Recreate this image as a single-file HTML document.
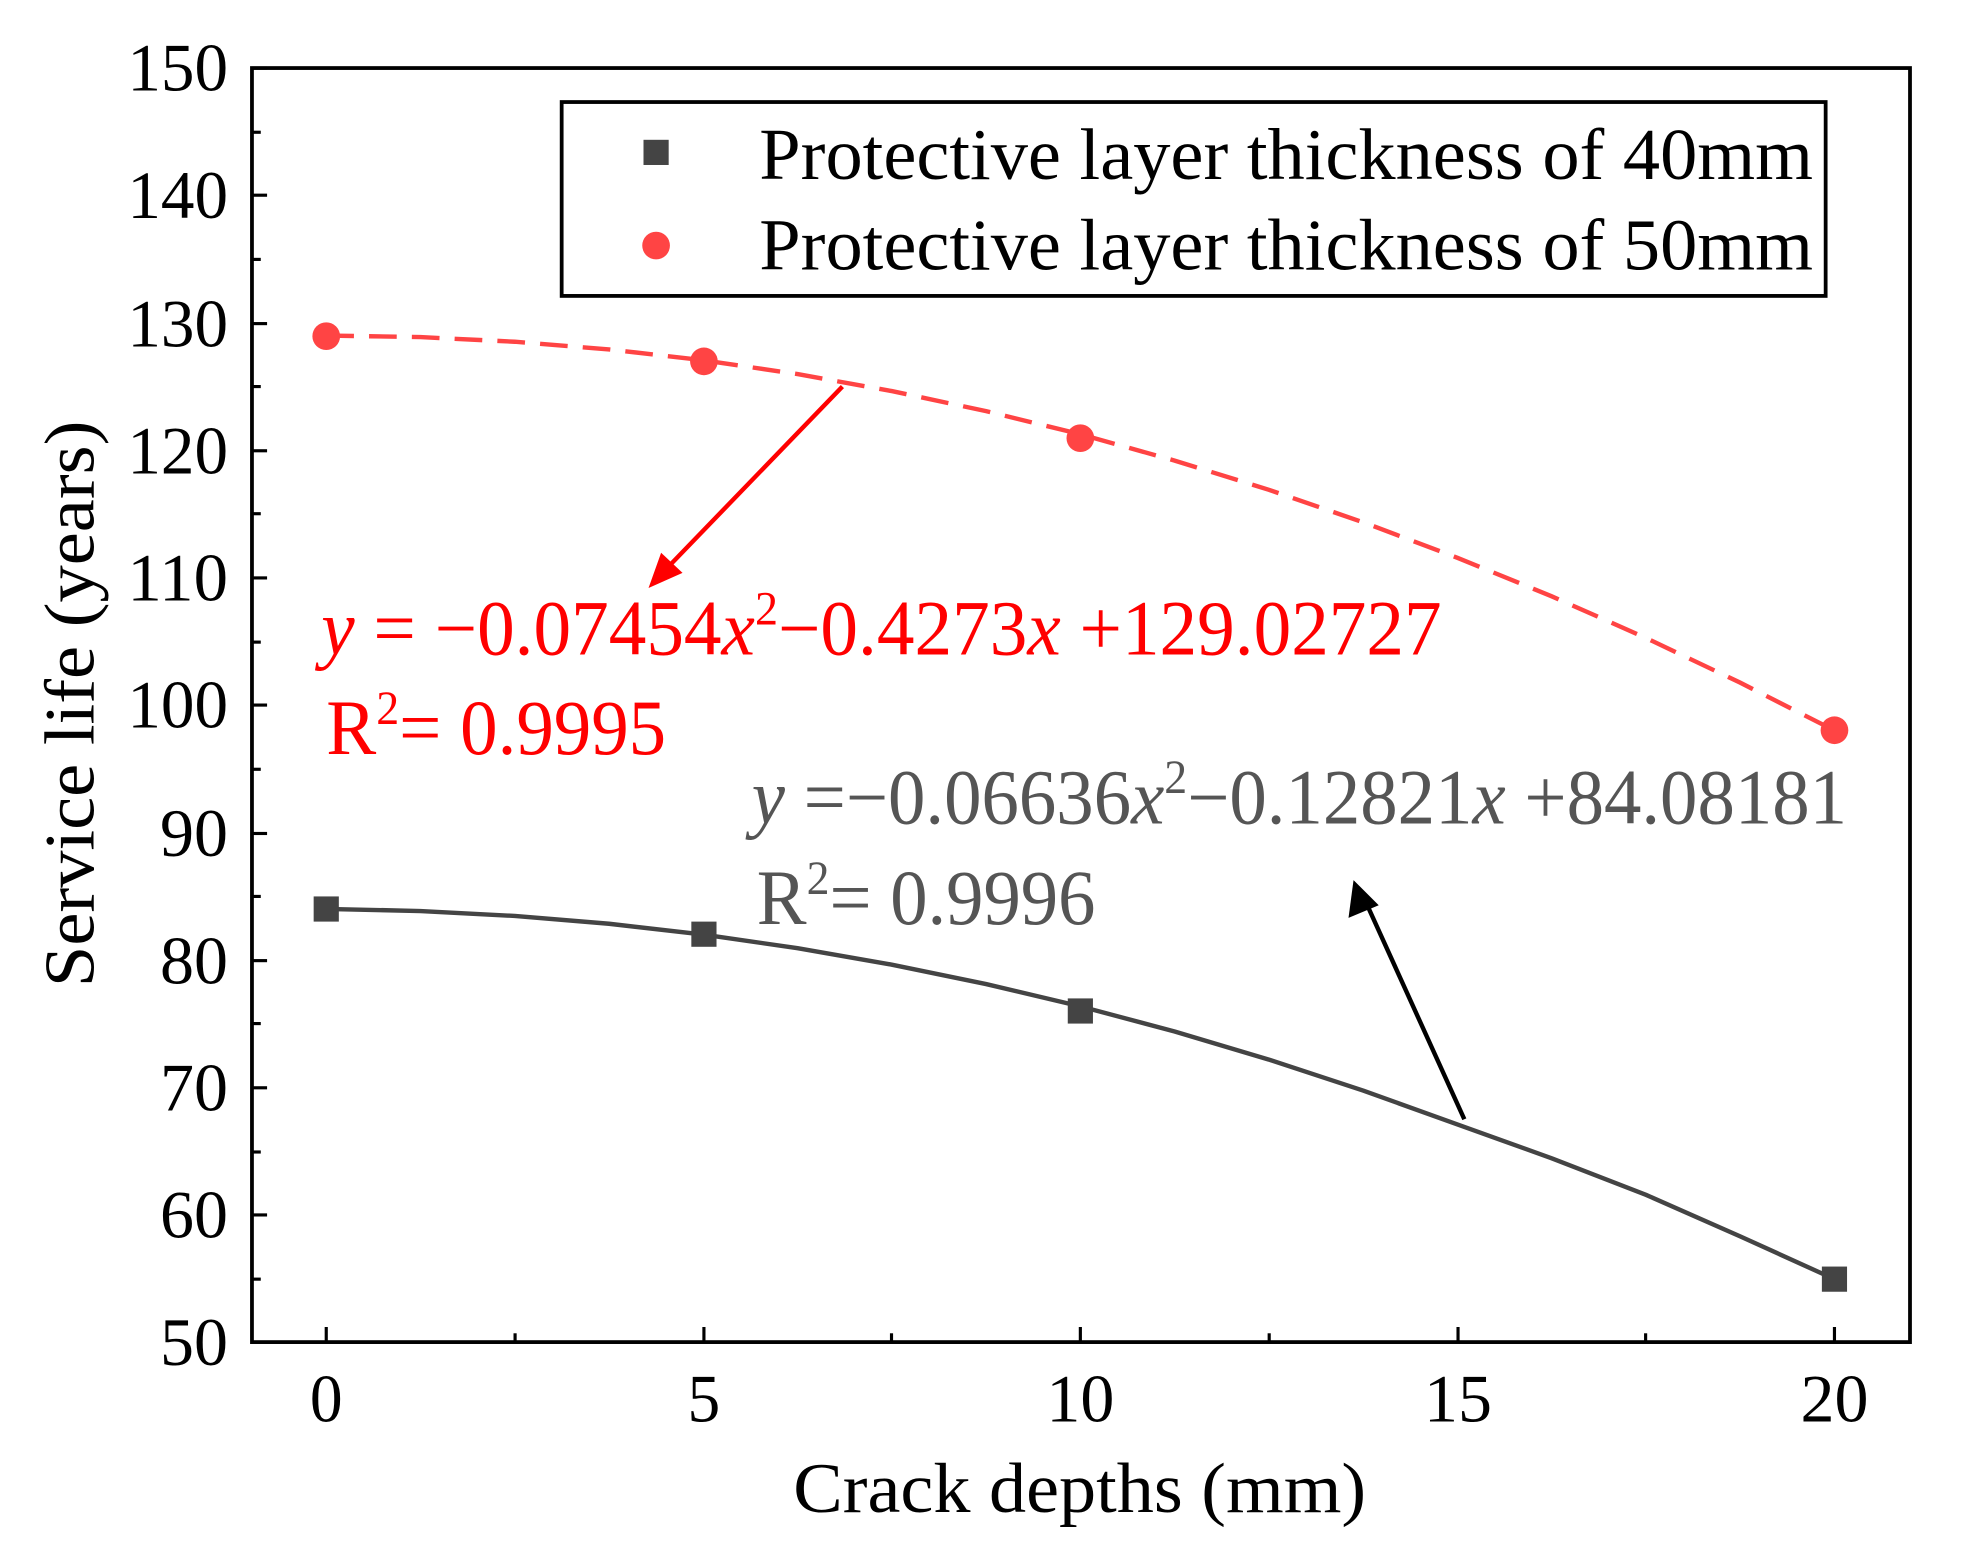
<!DOCTYPE html>
<html><head><meta charset="utf-8"><style>html,body{margin:0;padding:0;background:#fff}svg{display:block}</style></head>
<body>
<svg width="1970" height="1566" viewBox="2.86 0.95 1564.8 1243.9" preserveAspectRatio="none" xmlns="http://www.w3.org/2000/svg" font-family="'Liberation Serif',serif">
<rect x="0" y="0" width="1570" height="1250" fill="#fff"/>
<rect x="203" y="55" width="1317" height="1012" fill="none" stroke="#000" stroke-width="3"/>
<g stroke="#000" stroke-width="2.5">
<line x1="203" y1="55" x2="215" y2="55"/><line x1="203" y1="156" x2="215" y2="156"/><line x1="203" y1="258" x2="215" y2="258"/><line x1="203" y1="359" x2="215" y2="359"/><line x1="203" y1="460" x2="215" y2="460"/><line x1="203" y1="561" x2="215" y2="561"/><line x1="203" y1="663" x2="215" y2="663"/><line x1="203" y1="764" x2="215" y2="764"/><line x1="203" y1="865" x2="215" y2="865"/><line x1="203" y1="966" x2="215" y2="966"/>
<line x1="203" y1="106" x2="210" y2="106"/><line x1="203" y1="207" x2="210" y2="207"/><line x1="203" y1="308" x2="210" y2="308"/><line x1="203" y1="409" x2="210" y2="409"/><line x1="203" y1="511" x2="210" y2="511"/><line x1="203" y1="612" x2="210" y2="612"/><line x1="203" y1="713" x2="210" y2="713"/><line x1="203" y1="814" x2="210" y2="814"/><line x1="203" y1="916" x2="210" y2="916"/><line x1="203" y1="1017" x2="210" y2="1017"/>
<line x1="262" y1="1067" x2="262" y2="1055"/><line x1="562" y1="1067" x2="562" y2="1055"/><line x1="861" y1="1067" x2="861" y2="1055"/><line x1="1161" y1="1067" x2="1161" y2="1055"/><line x1="1460" y1="1067" x2="1460" y2="1055"/>
<line x1="412" y1="1067" x2="412" y2="1060"/><line x1="711" y1="1067" x2="711" y2="1060"/><line x1="1011" y1="1067" x2="1011" y2="1060"/><line x1="1310" y1="1067" x2="1310" y2="1060"/>
</g>
<g font-size="54" text-anchor="end" fill="#000">
<text x="184" y="73" textLength="80" lengthAdjust="spacingAndGlyphs">150</text><text x="184" y="174" textLength="80" lengthAdjust="spacingAndGlyphs">140</text><text x="184" y="276" textLength="80" lengthAdjust="spacingAndGlyphs">130</text><text x="184" y="377" textLength="80" lengthAdjust="spacingAndGlyphs">120</text><text x="184" y="478" textLength="80" lengthAdjust="spacingAndGlyphs">110</text><text x="184" y="579" textLength="80" lengthAdjust="spacingAndGlyphs">100</text><text x="184" y="681" textLength="54" lengthAdjust="spacingAndGlyphs">90</text><text x="184" y="782" textLength="54" lengthAdjust="spacingAndGlyphs">80</text><text x="184" y="883" textLength="54" lengthAdjust="spacingAndGlyphs">70</text><text x="184" y="984" textLength="54" lengthAdjust="spacingAndGlyphs">60</text><text x="184" y="1085" textLength="54" lengthAdjust="spacingAndGlyphs">50</text>
</g>
<g font-size="54" text-anchor="middle" fill="#000">
<text x="262" y="1130" textLength="26" lengthAdjust="spacingAndGlyphs">0</text><text x="562" y="1130" textLength="26" lengthAdjust="spacingAndGlyphs">5</text><text x="861" y="1130" textLength="54" lengthAdjust="spacingAndGlyphs">10</text><text x="1161" y="1130" textLength="54" lengthAdjust="spacingAndGlyphs">15</text><text x="1460" y="1130" textLength="54" lengthAdjust="spacingAndGlyphs">20</text>
</g>
<text x="633" y="1202" font-size="56" textLength="455" lengthAdjust="spacingAndGlyphs">Crack depths (mm)</text>
<text transform="translate(77,785) rotate(-90)" font-size="56" textLength="450" lengthAdjust="spacingAndGlyphs">Service life (years)</text>
<rect x="449" y="82" width="1004" height="154" fill="#fff" stroke="#000" stroke-width="3"/>
<rect x="514" y="112" width="20" height="20" fill="#444"/>
<circle cx="524" cy="196" r="11" fill="#f44"/>
<text x="606" y="143" font-size="58" textLength="837" lengthAdjust="spacingAndGlyphs">Protective layer thickness of 40mm</text>
<text x="606" y="215" font-size="58" textLength="837" lengthAdjust="spacingAndGlyphs">Protective layer thickness of 50mm</text>
<polyline fill="none" stroke="#f44" stroke-width="3.5" stroke-dasharray="22,12" points="262,267.5 336.9,268.7 411.75,272.4 486.6,278.5 561.5,287.1 636.4,298.1 711.25,311.6 786.1,327.5 861,345.9 935.9,366.8 1010.75,390 1085.6,415.8 1160.5,444 1235.4,474.6 1310.25,507.7 1385.1,543.2 1460,581.2"/>
<polyline fill="none" stroke="#444" stroke-width="3.5" stroke-linejoin="round" points="262,722.9 336.9,724.6 411.75,728.5 486.6,734.7 561.5,743.3 636.4,754.1 711.25,767.2 786.1,782.6 861,800.3 935.9,820.3 1010.75,842.6 1085.6,867.2 1160.5,894.1 1235.4,921 1310.25,950 1385.1,983 1460,1017"/>
<g fill="#f44"><circle cx="262" cy="268" r="11"/><circle cx="562" cy="288" r="11"/><circle cx="861" cy="349" r="11"/><circle cx="1460" cy="581" r="11"/></g>
<g fill="#444"><rect x="252" y="713" width="20" height="20"/><rect x="552" y="733" width="20" height="20"/><rect x="851" y="794" width="20" height="20"/><rect x="1450" y="1007" width="20" height="20"/></g>
<line x1="672" y1="308" x2="530" y2="455" stroke="#f00" stroke-width="3.5"/>
<polygon points="518,468 528,440 545,456" fill="#f00"/>
<line x1="1166" y1="890" x2="1088" y2="718" stroke="#000" stroke-width="3.5"/>
<polygon points="1078,700 1074,730 1098,720" fill="#000"/>
<text x="258" y="521" font-size="62" fill="#f00" textLength="890" lengthAdjust="spacingAndGlyphs"><tspan font-style="italic">y</tspan> = −0.07454<tspan font-style="italic">x</tspan><tspan font-size="38" dy="-24">2</tspan><tspan dy="24">−0.4273</tspan><tspan font-style="italic">x</tspan> +129.02727</text>
<text x="262" y="600" font-size="62" fill="#f00" textLength="270" lengthAdjust="spacingAndGlyphs">R<tspan font-size="38" dy="-24">2</tspan><tspan dy="24">= 0.9995</tspan></text>
<text x="600" y="655" font-size="62" fill="#555" textLength="870" lengthAdjust="spacingAndGlyphs"><tspan font-style="italic">y</tspan> =−0.06636<tspan font-style="italic">x</tspan><tspan font-size="38" dy="-24">2</tspan><tspan dy="24">−0.12821</tspan><tspan font-style="italic">x</tspan> +84.08181</text>
<text x="604" y="735" font-size="62" fill="#555" textLength="269" lengthAdjust="spacingAndGlyphs">R<tspan font-size="38" dy="-24">2</tspan><tspan dy="24">= 0.9996</tspan></text>
</svg>
</body></html>
